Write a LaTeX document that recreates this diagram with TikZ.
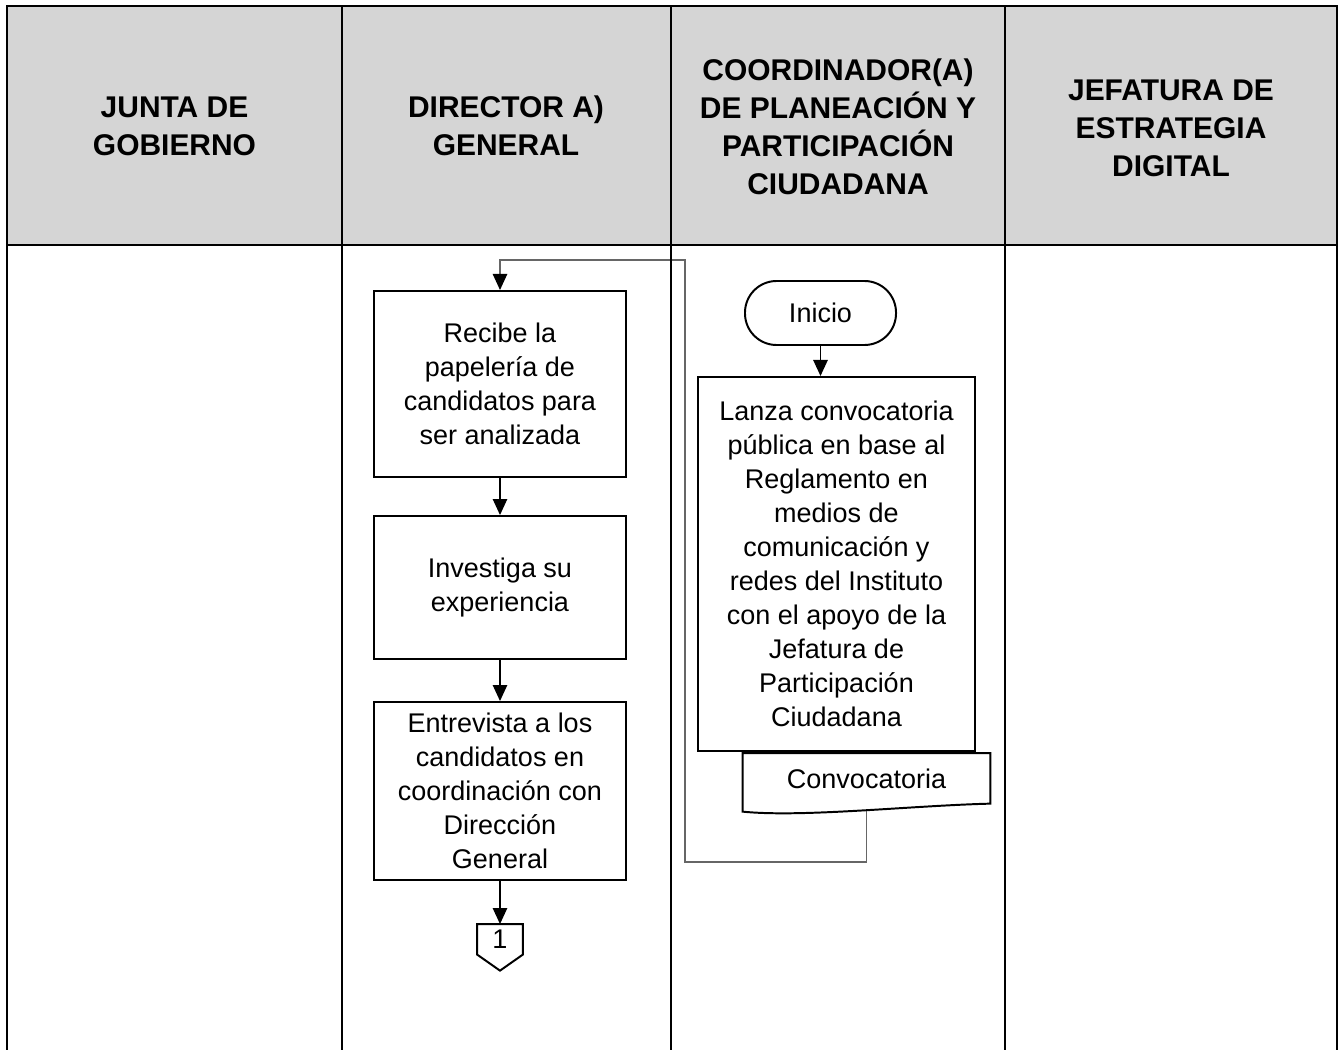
\documentclass[tikz,border=0pt]{standalone}
\usepackage{fontspec}
\setmainfont{Liberation Sans}
\usepackage{tikz}
\usetikzlibrary{arrows.meta,positioning,calc,backgrounds}
\definecolor{headgray}{HTML}{D5D5D5}
\definecolor{linkgray}{HTML}{666666}
\newcommand{\bodysize}{\fontsize{19.2pt}{24.2pt}\selectfont}
\newcommand{\headsize}{\fontsize{21.3pt}{27pt}\selectfont\bfseries}
\tikzset{
    laneline/.style={draw=black,line width=1.8pt},
    lanehead/.style={align=center,font=\headsize,inner sep=0pt},
    procbox/.style={draw=black,fill=white,line width=1.4pt,
      minimum width=63mm,inner sep=2pt,align=center,font=\bodysize},
    termnode/.style={draw=black,fill=white,line width=1.4pt,rounded corners=7.9mm,
      minimum width=37.75mm,minimum height=16mm,inner sep=2pt,font=\bodysize},
    docnode/.style={minimum width=61.75mm,minimum height=12.5mm,inner sep=0pt,
      font=\bodysize},
    docshape/.style={draw=black,fill=white,line width=1.4pt},
    offpage/.style={minimum width=11.25mm,minimum height=7.5mm,inner sep=0pt,
      font=\bodysize},
    flowarrow/.style={-{Triangle[length=4mm,width=3.6mm]},draw=black,line width=1pt},
    linkline/.style={-{Triangle[length=4mm,width=3.6mm,color=black]},
      draw=linkgray,line width=0.9pt}
}
\begin{document}
\begin{tikzpicture}[x=0.025cm,y=-0.025cm]
  \useasboundingbox (0,0) rectangle (1342,1050);
  % lanes
  \fill[headgray] (7,6) rectangle (1337,245);
  \draw[laneline] (7,1050) -- (7,6) -- (1337,6) -- (1337,1050);
  \draw[laneline] (7,245) -- (1337,245);
  \foreach \x in {342,671,1005} \draw[laneline] (\x,6) -- (\x,1050);
  \node[lanehead] (hjunta) at (174.5,126) {JUNTA DE\\GOBIERNO};
  \node[lanehead] (hdirector) at (506,126) {DIRECTOR A)\\GENERAL};
  \node[lanehead] (hcoord) at (838,127)
    {COORDINADOR(A)\\DE PLANEACIÓN Y\\PARTICIPACIÓN\\CIUDADANA};
  \node[lanehead] (hjefatura) at (1171,128) {JEFATURA DE\\ESTRATEGIA\\DIGITAL};

  % coordinador
  \node[termnode] (inicio) at (820.5,313) {Inicio};
  \node[procbox,minimum width=69.25mm,minimum height=93.5mm,
    below=7.5mm of inicio,xshift=4mm] (lanza)
    {Lanza convocatoria\\pública en base al\\Reglamento en\\medios de\\comunicación y\\redes del Instituto\\con el apoyo de la\\Jefatura de\\Participación\\Ciudadana};
  \draw[flowarrow] (inicio.south) -- (inicio.south |- lanza.north);
  \node[docnode,below=0.25mm of lanza,xshift=7.5mm] (convoc) {Convocatoria};

  % director
  \node[procbox,minimum height=46.5mm] (recibe) at (500,384)
    {Recibe la\\papelería de\\candidatos para\\ser analizada};
  \node[procbox,minimum height=35.75mm,below=9.25mm of recibe] (investiga)
    {Investiga su\\experiencia};
  \draw[flowarrow] (recibe) -- (investiga);
  \node[procbox,minimum height=44.5mm,below=10.25mm of investiga] (entrevista)
    {Entrevista a los\\candidatos en\\coordinación con\\Dirección\\General};
  \draw[flowarrow] (investiga) -- (entrevista);
  \node[offpage,below=10.75mm of entrevista] (conn1) {1};
  \draw[flowarrow] (entrevista) -- (conn1);
  \draw[docshape,fill=none] (conn1.north west) -- (conn1.north east) -- (conn1.south east)
    -- ($(conn1.south)+(0,-4mm)$) -- (conn1.south west) -- cycle;

  % document and loop back
  \coordinate (loopbot) at (685,862);
  \coordinate (looptop) at (685,260);
  \begin{scope}[on background layer]
    \draw[linkline] (convoc.south) |- (loopbot) -- (looptop) -| (recibe.north);
    \draw[docshape] (convoc.north west) -- (convoc.north east) -- (convoc.south east)
      .. controls +(-20mm,-0.5mm) and +(15mm,-1.5mm) ..
      ($(convoc.south west)+(0,-2mm)$) -- cycle;
  \end{scope}
\end{tikzpicture}
\end{document}
